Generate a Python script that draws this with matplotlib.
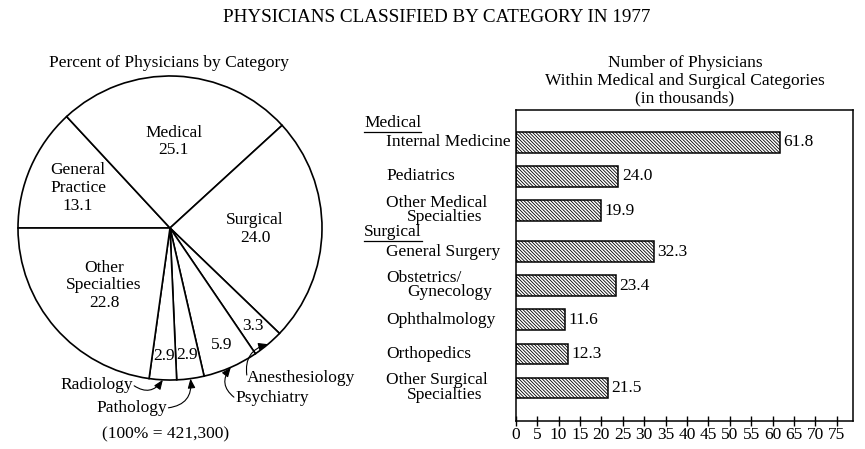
import matplotlib
matplotlib.use("Agg")
import matplotlib.pyplot as plt
from matplotlib.lines import Line2D
import numpy as np

# pie: percent of physicians by category (clockwise from 9 o'clock)
pie_names = ["General\nPractice", "Medical", "Surgical", "Anesthesiology",
             "Psychiatry", "Pathology", "Radiology", "Other\nSpecialties"]
pie_values = [13.1, 25.1, 24.0, 3.3, 5.9, 2.9, 2.9, 22.8]
pie_total = "(100% = 421,300)"

# bars: number of physicians (thousands)
bar_labels = ["Internal Medicine", "Pediatrics", "Other Medical\nSpecialties",
              "General Surgery", "Obstetrics/\nGynecology", "Ophthalmology",
              "Orthopedics", "Other Surgical\nSpecialties"]
bar_values = [61.8, 24.0, 19.9, 32.3, 23.4, 11.6, 12.3, 21.5]
group_names = ["Medical", "Surgical"]
group_start = [0, 3]
x_ticks = list(range(0, 80, 5))

plt.rcParams["font.family"] = ["Liberation Serif", "DejaVu Serif"]
plt.rcParams["hatch.linewidth"] = 0.6
FS = 12.5

W, H = 865, 449
fig = plt.figure(figsize=(W / 100, H / 100), dpi=100)

fig.text(437 / W, 1 - 18 / H, "PHYSICIANS CLASSIFIED BY CATEGORY IN 1977",
         ha="center", va="center", fontsize=13.8)

# ---------------- pie ----------------
cx, cy, r = 170, 228, 152
ax_pie = fig.add_axes([(cx - r) / W, (H - cy - r) / H, 2 * r / W, 2 * r / H])
wedges, _ = ax_pie.pie(pie_values, startangle=180, counterclock=False,
                       wedgeprops=dict(facecolor="white", edgecolor="black",
                                       linewidth=1.2))
ax_pie.set_xlim(-1, 1)
ax_pie.set_ylim(-1, 1)
ax_pie.axis("off")

fig.text(169 / W, 1 - 63 / H, "Percent of Physicians by Category",
         ha="center", va="center", fontsize=FS)


def mid_angle(w):
    return np.deg2rad((w.theta1 + w.theta2) / 2)


def px(x, y):
    # figure pixel (from top-left) -> pie data coords
    return (x - cx) / r, (cy - y) / r


# big wedges: name + value inside
inside_r = {0: 0.66, 1: 0.57, 2: 0.56, 7: 0.575}
for i, rad in inside_r.items():
    a = mid_angle(wedges[i])
    ax_pie.text(rad * np.cos(a), rad * np.sin(a),
                f"{pie_names[i]}\n{pie_values[i]:.1f}",
                ha="center", va="center", fontsize=FS, linespacing=1.15)

# small wedges: value inside, name outside with arrow
small = {
    3: dict(xy=px(247, 378), ha="left", rad=-0.45, rel=(0, 0.6)),
    4: dict(xy=px(235, 398), ha="left", rad=-0.5, rel=(0, 0.5)),
    5: dict(xy=px(167, 408), ha="right", rad=0.5, rel=(1, 0.5)),
    6: dict(xy=px(133, 385), ha="right", rad=0.5, rel=(1, 0.5)),
}
for i, opt in small.items():
    a = mid_angle(wedges[i])
    ax_pie.text(0.85 * np.cos(a), 0.84 * np.sin(a), f"{pie_values[i]:.1f}",
                ha="center", va="center", fontsize=FS)
    ax_pie.annotate(pie_names[i], xy=(np.cos(a), np.sin(a)),
                    xytext=opt["xy"], ha=opt["ha"], va="center",
                    fontsize=FS, annotation_clip=False,
                    arrowprops=dict(arrowstyle="-|>,head_length=0.45,head_width=0.18",
                                    color="black", lw=0.8, patchA=None,
                                    shrinkA=1, shrinkB=0, relpos=opt["rel"],
                                    connectionstyle=f"arc3,rad={opt['rad']}"))

fig.text(166 / W, 1 - 434 / H, pie_total, ha="center", va="center", fontsize=FS)

# ---------------- bars ----------------
x0, x1, y0, y1 = 515.7, 853, 110, 421
ax = fig.add_axes([x0 / W, (H - y1) / H, (x1 - x0) / W, (y1 - y0) / H])
# small extra gap between the medical and surgical groups
idx = np.arange(len(bar_values))
pos = idx + np.where(idx >= group_start[1], 0.2, 0.0)
ax.barh(pos, bar_values, height=0.6, color="white", edgecolor="black",
        hatch="\\" * 10, linewidth=1.1)
ax.set_xlim(0, 78.8)
ax.set_ylim(8.17, -0.95)
ax.set_xticks(x_ticks)
ax.set_yticks([])
ax.tick_params(axis="x", direction="inout", length=7, width=1, pad=1,
               labelsize=FS)
for s in ax.spines.values():
    s.set_linewidth(1.1)

for p, v in zip(pos, bar_values):
    ax.text(v + 0.8, p, f"{v:.1f}", va="center", ha="left", fontsize=FS)

ppu = (836.7 - x0) / 75
lab_x = (386 - x0) / ppu
ind_x = (407 - x0) / ppu
head_x = (364 - x0) / ppu
for p, lab in zip(pos, bar_labels):
    lines = lab.split("\n")
    if len(lines) == 1:
        ax.text(lab_x, p, lab, ha="left", va="center", fontsize=FS, clip_on=False)
    else:
        ax.text(lab_x, p - 0.22, lines[0], ha="left", va="center", fontsize=FS, clip_on=False)
        ax.text(ind_x, p + 0.2, lines[1], ha="left", va="center", fontsize=FS, clip_on=False)

heads = []
for name, start in zip(group_names, group_start):
    heads.append(ax.text(head_x, pos[start] - 0.56, name, ha="left", va="center",
                         fontsize=FS, clip_on=False))

fig.text(685 / W, 1 - 81 / H,
         "Number of Physicians\nWithin Medical and Surgical Categories\n(in thousands)",
         ha="center", va="center", fontsize=FS, linespacing=1.15)

# underline the group headings
fig.canvas.draw()
for t in heads:
    bb = t.get_window_extent()
    fig.add_artist(Line2D([bb.x0 / W, bb.x1 / W], [(bb.y0 - 1) / H, (bb.y0 - 1) / H],
                          transform=fig.transFigure, color="black", lw=0.9))

fig.savefig("out.png", dpi=100)
